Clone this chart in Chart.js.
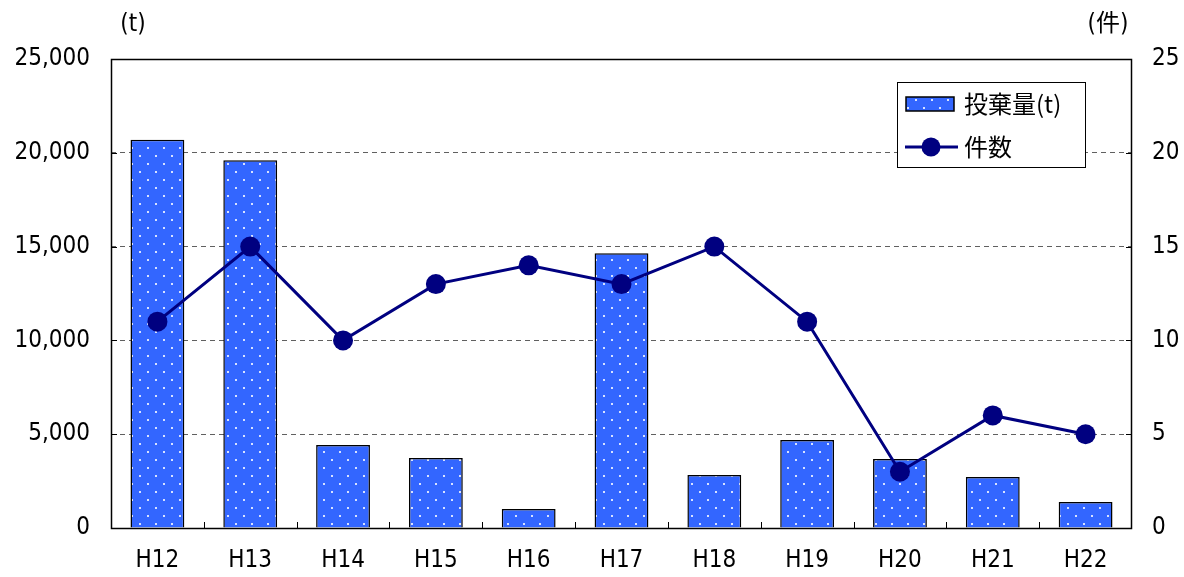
<!DOCTYPE html>
<html>
<head>
<meta charset="utf-8">
<script src="https://cdn.jsdelivr.net/npm/chart.js@4.4.0/dist/chart.umd.min.js"></script>
<style>
  body { margin: 0; background: #fff; }
  #wrap { width: 1184px; height: 577px; }
</style>
</head>
<body>
<div id="wrap"><canvas id="chartDump" width="1184" height="577"></canvas></div>
<script>
// 年度
const years = ['H12', 'H13', 'H14', 'H15', 'H16', 'H17', 'H18', 'H19', 'H20', 'H21', 'H22'];
// 投棄量 (t)
const tonnage = [20700, 19600, 4420, 3730, 1010, 14650, 2820, 4690, 3680, 2720, 1390];
// 件数
const cases = [11, 15, 10, 13, 14, 13, 15, 11, 3, 6, 5];

const tonLabel = '投棄量(t)';
const caseLabel = '件数';
const leftTitle = '(t)';
const rightTitle = '(件)';

const FONT = '"Liberation Sans Narrow", "DejaVu Sans Condensed", "Noto Sans CJK JP", sans-serif';
const CJK = '"Noto Sans CJK JP", sans-serif';

function makeDots() {
    const c = document.createElement('canvas');
    c.width = 16; c.height = 16;
    const g = c.getContext('2d');
    g.fillStyle = '#3366ff';
    g.fillRect(0, 0, 16, 16);
    g.fillStyle = '#d8e2ff';
    g.fillRect(3, 3, 2, 2);
    g.fillRect(11, 11, 2, 2);
    return g.createPattern(c, 'repeat');
}
const dots = makeDots();

const fmt = v => v.toLocaleString('en-US');

// frame, inward ticks, axis units, legend box
const decor = {
    id: 'decor',
    afterDatasetsDraw(chart) {
        const ctx = chart.ctx;
        const a = chart.chartArea;
        const x = chart.scales.x, y = chart.scales.y;
        ctx.save();
        ctx.strokeStyle = '#000';
        ctx.lineWidth = 1.5;
        ctx.setLineDash([]);
        ctx.strokeRect(a.left + 0.5, a.top + 0.5, a.right - a.left - 1, a.bottom - a.top);
        ctx.lineWidth = 1;
        ctx.beginPath();
        y.ticks.forEach(t => {
            const py = Math.round(y.getPixelForValue(t.value)) + 0.5;
            ctx.moveTo(a.left, py); ctx.lineTo(a.left + 6, py);
            ctx.moveTo(a.right - 6, py); ctx.lineTo(a.right, py);
        });
        for (let i = 1; i < years.length; i++) {
            const px = Math.round((x.getPixelForValue(i - 1) + x.getPixelForValue(i)) / 2) + 0.5;
            ctx.moveTo(px, a.bottom); ctx.lineTo(px, a.bottom - 6);
        }
        ctx.stroke();

        ctx.fillStyle = '#000';
        ctx.font = '24px ' + FONT;
        ctx.textAlign = 'center';
        ctx.textBaseline = 'middle';
        ctx.fillText(leftTitle, a.left + 22, 25);
        ctx.fillText(rightTitle, a.right - 24, 25);

        // legend
        const lx = 897, ly = 82, lw = 188, lh = 85;
        ctx.fillStyle = '#fff';
        ctx.fillRect(lx, ly, lw, lh);
        ctx.strokeRect(lx + 0.5, ly + 0.5, lw, lh);
        ctx.fillStyle = dots;
        ctx.fillRect(906, 97, 48, 14);
        ctx.lineWidth = 1.5;
        ctx.strokeRect(906, 97, 48, 14);
        ctx.strokeStyle = '#000080';
        ctx.lineWidth = 3;
        ctx.beginPath();
        ctx.moveTo(905, 147); ctx.lineTo(958, 147);
        ctx.stroke();
        ctx.fillStyle = '#000080';
        ctx.beginPath();
        ctx.arc(931, 147, 9.5, 0, Math.PI * 2);
        ctx.fill();
        ctx.fillStyle = '#000';
        ctx.font = '24px ' + CJK;
        ctx.textAlign = 'left';
        ctx.fillText(tonLabel, 964, 104);
        ctx.fillText(caseLabel, 964, 147);
        ctx.restore();
    }
};

const ctx = document.getElementById('chartDump').getContext('2d');
const myChart = new Chart(ctx, {
    data: {
        labels: years,
        datasets: [{
            type: 'line',
            label: caseLabel,
            data: cases,
            yAxisID: 'y1',
            borderColor: '#000080',
            backgroundColor: '#000080',
            borderWidth: 3,
            pointRadius: 10,
            pointBorderWidth: 0,
            tension: 0,
            order: 0
        }, {
            type: 'bar',
            label: tonLabel,
            data: tonnage,
            yAxisID: 'y',
            backgroundColor: dots,
            borderColor: '#000',
            borderWidth: 1.5,
            categoryPercentage: 1,
            barPercentage: 0.58,
            order: 1
        }]
    },
    options: {
        responsive: false,
        animation: false,
        layout: { padding: { top: 59, left: 0, right: 0, bottom: 0 } },
        plugins: { legend: { display: false }, tooltip: { enabled: false } },
        scales: {
            x: {
                offset: true,
                grid: { display: false },
                border: { display: false },
                ticks: { color: '#000', font: { family: FONT, size: 24 }, padding: 10, maxRotation: 0 },
                afterFit: s => { s.height = 49; }
            },
            y: {
                position: 'left',
                min: 0, max: 25000,
                ticks: { stepSize: 5000, color: '#000', font: { family: FONT, size: 24 }, padding: 21, callback: v => fmt(v) },
                grid: { color: '#606060', drawTicks: false, lineWidth: 1 },
                border: { display: false, dash: [5, 4] },
                afterFit: s => { s.width = 111; }
            },
            y1: {
                position: 'right',
                min: 0, max: 25,
                ticks: { stepSize: 5, color: '#000', font: { family: FONT, size: 24 }, padding: 20 },
                grid: { display: false, drawTicks: false },
                border: { display: false },
                afterFit: s => { s.width = 52; }
            }
        }
    },
    plugins: [decor]
});
</script>
</body>
</html>
